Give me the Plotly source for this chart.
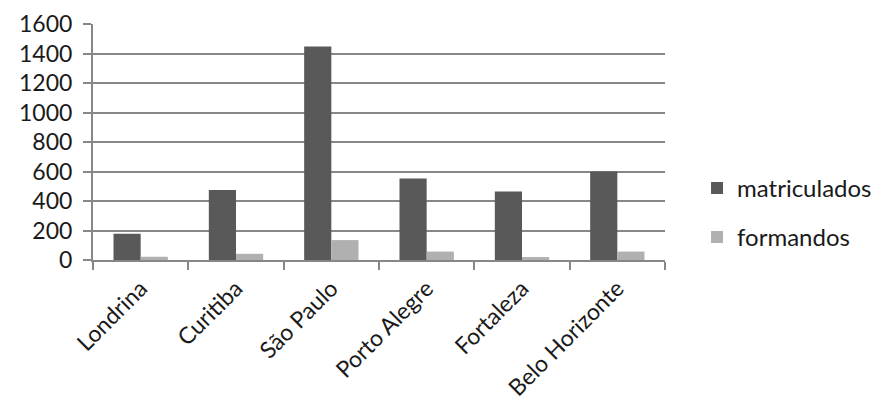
import plotly.graph_objects as go

cidades = ["Londrina", "Curitiba", "São Paulo", "Porto Alegre", "Fortaleza", "Belo Horizonte"]
matriculados = [178, 475, 1448, 553, 465, 600]
formandos = [22, 42, 135, 57, 20, 57]
y_ticks = [0, 200, 400, 600, 800, 1000, 1200, 1400, 1600]

FONT = "Lato, Carlito, Calibri, sans-serif"
GRID = "#878787"

fig = go.Figure()
fig.add_trace(go.Bar(x=cidades, y=matriculados, name="matriculados",
                     marker=dict(color="#595959", line=dict(width=0)),
                     legendgroup="a"))
fig.add_trace(go.Bar(x=cidades, y=formandos, name="formandos",
                     marker=dict(color="#b0b0b0", line=dict(width=0)),
                     legendgroup="b"))

fig.update_layout(
    width=889, height=407,
    margin=dict(l=93, r=222, t=24, b=147),
    paper_bgcolor="white", plot_bgcolor="white",
    barmode="group", bargap=0.43, bargroupgap=0,
    font=dict(family=FONT, size=22, color="#1a1a1a"),
    legend=dict(x=1.056, xanchor="left", y=0.2, yanchor="middle",
                font=dict(size=24), tracegroupgap=15,
                bgcolor="rgba(0,0,0,0)"),
    showlegend=True,
)
fig.update_xaxes(
    tickangle=-45, tickson="boundaries", ticks="outside", ticklen=8,
    tickcolor=GRID, tickwidth=2, automargin=False,
    showline=True, linecolor=GRID, linewidth=2,
    showgrid=False, tickfont=dict(size=23), ticklabelstandoff=4,
)
fig.update_yaxes(
    range=[0, 1600], tickvals=y_ticks, ticks="outside", ticklen=8,
    tickcolor=GRID, tickwidth=2, automargin=False,
    showline=True, linecolor=GRID, linewidth=2,
    showgrid=True, gridcolor=GRID, gridwidth=2,
    zeroline=False, tickfont=dict(size=23), ticklabelstandoff=6,
)
fig.write_html("out.html")
